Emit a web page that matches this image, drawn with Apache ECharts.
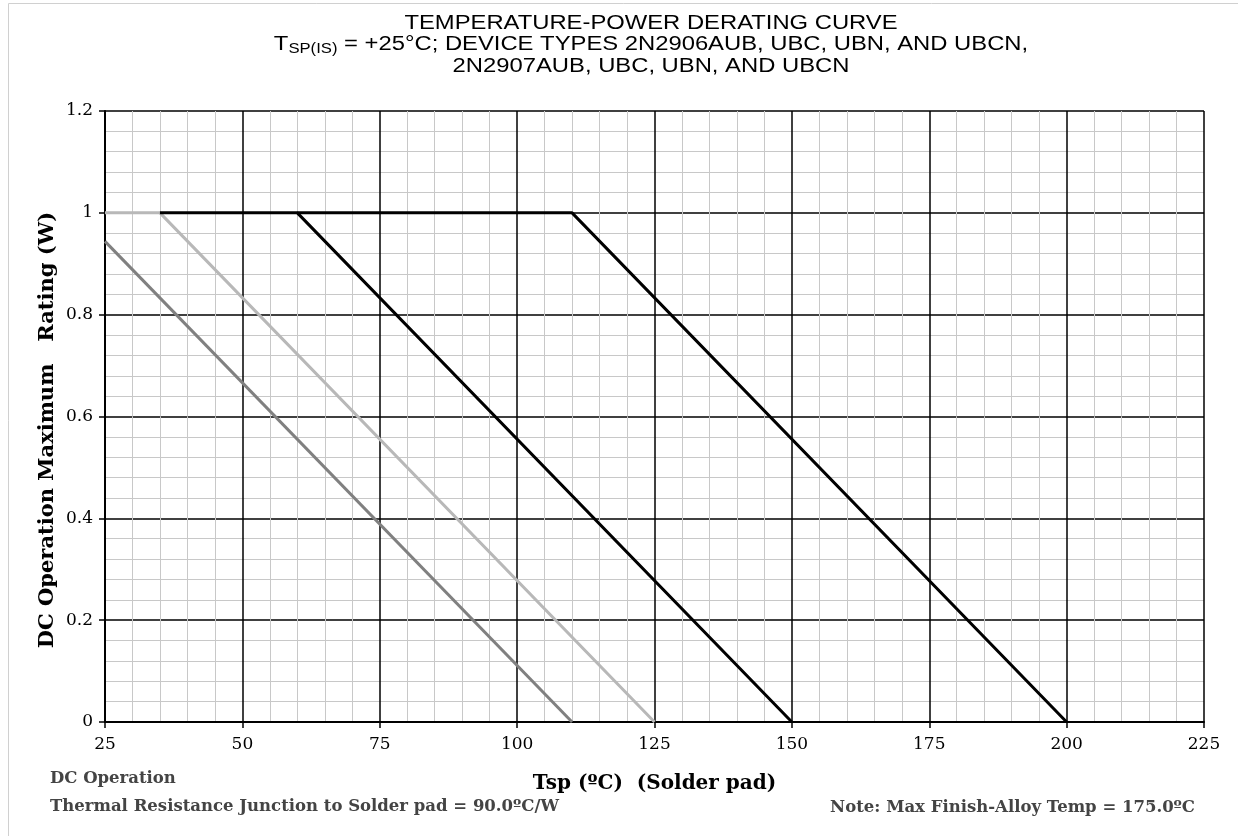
<!DOCTYPE html>
<html>
<head>
<meta charset="utf-8">
<script src="https://cdn.jsdelivr.net/npm/echarts@6/dist/echarts.min.js"></script>
<style>
  html, body { margin: 0; padding: 0; background: #fff; }
  #chart { width: 1238px; height: 836px; }
</style>
</head>
<body>
<div id="chart"></div>
<script>
// derating curves, Tsp (C) vs max power (W)
const darkGrayX = [25, 110]
const darkGrayY = [0.944, 0]
const lightGrayX = [25, 35, 125]
const lightGrayY = [1, 1, 0]
const blackAX = [35, 60, 150]
const blackAY = [1, 1, 0]
const blackBX = [60, 110, 200]
const blackBY = [1, 1, 0]

const serif = '"DejaVu Serif", serif'
const sans = '"Liberation Sans", Arial, sans-serif'

function pairs(xs, ys) {
  return xs.map((x, i) => [x, ys[i]])
}

function lineSeries(name, xs, ys, color) {
  return {
    name: name,
    type: 'line',
    data: pairs(xs, ys),
    symbol: 'none',
    animation: false,
    lineStyle: { color: color, width: 3 }
  }
}

// title lines are drawn a bit wider than the font, like the original picture
function titleLine(y, text) {
  return {
    type: 'text',
    x: 651,
    y: y,
    scaleX: 1.19,
    silent: true,
    style: {
      x: 0,
      y: 0,
      text: text,
      align: 'center',
      verticalAlign: 'middle',
      fill: '#000',
      font: '20px ' + sans,
      rich: {
        t: { fontFamily: sans, fontSize: 20, fill: '#000' },
        s: { fontFamily: sans, fontSize: 14, fill: '#000', padding: [9, 0, 0, 0] }
      }
    }
  }
}

const chart = echarts.init(document.getElementById('chart'))
chart.setOption({
  backgroundColor: '#fff',
  grid: { left: 105, right: 34, top: 111, bottom: 114 },
  xAxis: {
    type: 'value',
    min: 25,
    max: 225,
    interval: 25,
    name: 'Tsp (ºC)  (Solder pad)',
    nameLocation: 'middle',
    nameGap: 52,
    nameTextStyle: { fontFamily: serif, fontWeight: 'bold', fontSize: 20, color: '#000' },
    axisLine: { lineStyle: { color: '#000', width: 2 } },
    axisTick: { show: true, length: 6, lineStyle: { color: '#000', width: 1.5 } },
    axisLabel: { fontFamily: serif, fontSize: 17, color: '#000', margin: 14 },
    splitLine: { show: true, lineStyle: { color: '#000', width: 1.5 } },
    minorTick: { show: false, splitNumber: 5 },
    minorSplitLine: { show: true, lineStyle: { color: '#c8c8c8', width: 1 } }
  },
  yAxis: {
    type: 'value',
    min: 0,
    max: 1.2,
    interval: 0.2,
    axisLine: { show: true, lineStyle: { color: '#000', width: 2 } },
    axisTick: { show: true, length: 6, lineStyle: { color: '#000', width: 1.5 } },
    axisLabel: { fontFamily: serif, fontSize: 17, color: '#000', margin: 12 },
    splitLine: { show: true, lineStyle: { color: '#000', width: 1.5 } },
    minorTick: { show: false, splitNumber: 5 },
    minorSplitLine: { show: true, lineStyle: { color: '#c8c8c8', width: 1 } }
  },
  series: [
    lineSeries('dark', darkGrayX, darkGrayY, '#808080'),
    lineSeries('light', lightGrayX, lightGrayY, '#b8b8b8'),
    lineSeries('blackA', blackAX, blackAY, '#000'),
    lineSeries('blackB', blackBX, blackBY, '#000')
  ],
  graphic: [
    {
      type: 'rect',
      shape: { x: 8.5, y: 3.5, width: 1240, height: 840 },
      style: { fill: 'none', stroke: '#d0d0d0', lineWidth: 1 },
      silent: true
    },
    titleLine(23, '{t|TEMPERATURE-POWER DERATING CURVE}'),
    titleLine(44.5, '{t|T}{s|SP(IS)}{t| = +25°C; DEVICE TYPES 2N2906AUB, UBC, UBN, AND UBCN,}'),
    titleLine(66, '{t|2N2907AUB, UBC, UBN, AND UBCN}'),
    {
      // y axis title, placed by hand since it sits a bit below the plot centre
      type: 'text',
      x: 58,
      y: 430,
      rotation: Math.PI / 2,
      silent: true,
      style: {
        x: 0,
        y: 0,
        text: 'DC Operation Maximum   Rating (W)',
        align: 'center',
        verticalAlign: 'bottom',
        font: 'bold 21px ' + serif,
        fill: '#000'
      }
    },
    {
      type: 'text',
      left: 50,
      top: 770,
      style: { text: 'DC Operation', font: 'bold 16.5px ' + serif, fill: '#444' }
    },
    {
      type: 'text',
      left: 50,
      top: 798,
      style: { text: 'Thermal Resistance Junction to Solder pad = 90.0ºC/W', font: 'bold 16.5px ' + serif, fill: '#444' }
    },
    {
      type: 'text',
      right: 43,
      top: 799,
      style: { text: 'Note: Max Finish-Alloy Temp = 175.0ºC', font: 'bold 16.5px ' + serif, fill: '#444' }
    }
  ]
})
</script>
</body>
</html>
